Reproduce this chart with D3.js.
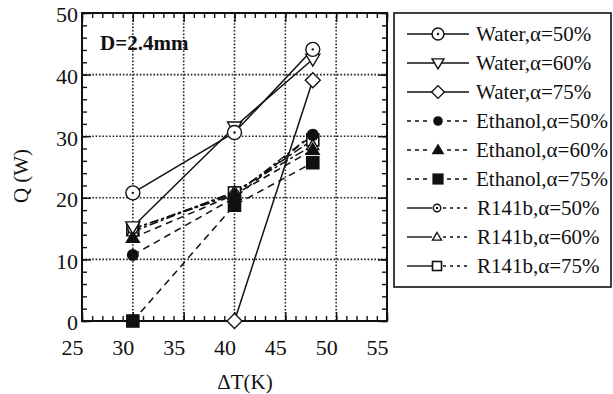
<!DOCTYPE html>
<html>
<head>
<meta charset="utf-8">
<script src="https://cdn.jsdelivr.net/npm/d3@7"></script>
<style>
  body { margin: 0; background: #fff; }
</style>
</head>
<body>
<div class="chart"></div>
<script>
var svgWidth = 613;
var svgHeight = 394;

// data
var dT = [30, 40, 47.7];
var seriesNames = ["Water,α=50%", "Water,α=60%", "Water,α=75%",
    "Ethanol,α=50%", "Ethanol,α=60%", "Ethanol,α=75%",
    "R141b,α=50%", "R141b,α=60%", "R141b,α=75%"];
var water50 = [20.8, 30.6, 44.1];
var water60 = [15.3, 31.5, 42.5];
var water75 = [null, 0, 39.1];
var ethanol50 = [10.7, 20.0, 30.2];
var ethanol60 = [13.5, 20.5, 27.8];
var ethanol75 = [0, 18.8, 25.7];
var r141b50 = [15.0, 20.5, 30.3];
var r141b60 = [14.5, 21.0, 28.5];
var r141b75 = [14.9, 20.8, 29.4];
var xTicks = [25, 30, 35, 40, 45, 50, 55];
var yTicks = [0, 10, 20, 30, 40, 50];

var allValues = [water50, water60, water75, ethanol50, ethanol60, ethanol75, r141b50, r141b60, r141b75];
var markers = ["circleDot", "triDown", "diamond", "circleFill", "triFill", "squareFill", "circleDotSmall", "triOpen", "squareOpen"];
var lineKind = ["solid", "solid", "solid", "dash", "dash", "dash", "dashdot", "dashdot", "dashdot"];

var serif = "Liberation Serif";

var svg = d3.select(".chart")
    .append("svg")
    .attr("width", svgWidth)
    .attr("height", svgHeight);

var x = d3.scaleLinear().domain([25, 55]).range([82, 387]);
var y = d3.scaleLinear().domain([0, 50]).range([321, 13]);

function serifText(sel, size, weight) {
    return sel.style("font-family", serif)
        .style("font-size", size + "px")
        .style("font-weight", weight || "normal")
        .style("fill", "#111");
}

// dotted grid
var grid = svg.append("g");
grid.selectAll(".gx").data(xTicks.slice(1, -1)).enter().append("line")
    .attr("x1", d => x(d)).attr("x2", d => x(d))
    .attr("y1", y(50)).attr("y2", y(0))
    .attr("stroke", "#222").attr("stroke-width", 1.6).attr("stroke-dasharray", "1.6,1.8");
grid.selectAll(".gy").data(yTicks.slice(1, -1)).enter().append("line")
    .attr("x1", x(25)).attr("x2", x(55))
    .attr("y1", d => y(d)).attr("y2", d => y(d))
    .attr("stroke", "#222").attr("stroke-width", 1.6).attr("stroke-dasharray", "1.6,1.8");

// ticks on all four sides, pointing inward
function tickAxis(axis, transform) {
    var g = svg.append("g").attr("transform", transform).call(axis);
    g.select(".domain").remove();
    g.selectAll("line").attr("stroke", "#111").attr("stroke-width", 1.4);
    return g;
}
var xMinor = d3.range(25, 56, 1);
var yMinor = d3.range(0, 51, 2);
tickAxis(d3.axisBottom(x).tickValues(xMinor).tickSize(-5).tickFormat(""), `translate(0,${y(0)})`);
tickAxis(d3.axisTop(x).tickValues(xMinor).tickSize(-5).tickFormat(""), `translate(0,${y(50)})`);
tickAxis(d3.axisLeft(y).tickValues(yMinor).tickSize(-5).tickFormat(""), `translate(${x(25)},0)`);
tickAxis(d3.axisRight(y).tickValues(yMinor).tickSize(-5).tickFormat(""), `translate(${x(55)},0)`);
tickAxis(d3.axisTop(x).tickValues(xTicks).tickSize(-9).tickFormat(""), `translate(0,${y(50)})`);
tickAxis(d3.axisRight(y).tickValues(yTicks).tickSize(-9).tickFormat(""), `translate(${x(55)},0)`);

var xAxis = tickAxis(d3.axisBottom(x).tickValues(xTicks).tickSize(-9).tickPadding(22), `translate(0,${y(0)})`);
serifText(xAxis.selectAll("text"), 22).attr("dx", -10).attr("dy", "0.55em");
var yAxis = tickAxis(d3.axisLeft(y).tickValues(yTicks).tickSize(-9).tickPadding(5), `translate(${x(25)},0)`);
serifText(yAxis.selectAll("text"), 22).attr("dx", 1).attr("dy", "0.4em");

// frame
svg.append("rect")
    .attr("x", x(25)).attr("y", y(50))
    .attr("width", x(55) - x(25)).attr("height", y(0) - y(50))
    .attr("fill", "none").attr("stroke", "#111").attr("stroke-width", 2);

serifText(svg.append("text"), 21, "bold")
    .attr("x", 100).attr("y", 50)
    .text("D=2.4mm");

serifText(svg.append("text"), 21)
    .attr("transform", "translate(28,176) rotate(-90)")
    .attr("text-anchor", "middle")
    .text("Q (W)");

serifText(svg.append("text"), 21)
    .attr("x", 245).attr("y", 389)
    .attr("text-anchor", "middle")
    .text("ΔT(K)");

function dashFor(kind) {
    if (kind === "dash") return "7,5";
    if (kind === "dashdot") return "9,3,3,3";
    return null;
}

function drawMarker(g, type, cx, cy, scale) {
    var s = scale || 1;
    var stroke = "#111";
    if (type === "circleDot" || type === "circleDotSmall") {
        var r = (type === "circleDot" ? 7 : 5) * s;
        g.append("circle").attr("cx", cx).attr("cy", cy).attr("r", r)
            .attr("fill", "#fff").attr("stroke", stroke).attr("stroke-width", 1.4);
        g.append("circle").attr("cx", cx).attr("cy", cy).attr("r", 1.2)
            .attr("fill", stroke);
    } else if (type === "circleFill") {
        g.append("circle").attr("cx", cx).attr("cy", cy).attr("r", 6 * s).attr("fill", stroke);
    } else if (type === "triDown") {
        var h = 7 * s;
        g.append("path").attr("d", `M${cx - h},${cy - h * 0.7}L${cx + h},${cy - h * 0.7}L${cx},${cy + h}Z`)
            .attr("fill", "#fff").attr("stroke", stroke).attr("stroke-width", 1.4);
    } else if (type === "triFill" || type === "triOpen") {
        var t = (type === "triFill" ? 6.5 : 6) * s;
        g.append("path").attr("d", `M${cx},${cy - t}L${cx + t},${cy + t * 0.7}L${cx - t},${cy + t * 0.7}Z`)
            .attr("fill", type === "triFill" ? stroke : "#fff").attr("stroke", stroke).attr("stroke-width", 1.4);
    } else if (type === "diamond") {
        var dd = 7.5 * s;
        g.append("path").attr("d", `M${cx},${cy - dd}L${cx + dd},${cy}L${cx},${cy + dd}L${cx - dd},${cy}Z`)
            .attr("fill", "#fff").attr("stroke", stroke).attr("stroke-width", 1.4);
    } else if (type === "squareFill" || type === "squareOpen") {
        var q = 6 * s;
        g.append("rect").attr("x", cx - q).attr("y", cy - q).attr("width", 2 * q).attr("height", 2 * q)
            .attr("fill", type === "squareFill" ? stroke : "#fff").attr("stroke", stroke).attr("stroke-width", 1.6);
    }
}

var line = d3.line()
    .defined(d => d[1] !== null)
    .x(d => x(d[0]))
    .y(d => y(d[1]));

var plot = svg.append("g");
allValues.forEach(function(vals, i) {
    var pts = dT.map((t, j) => [t, vals[j]]);
    plot.append("path")
        .attr("d", line(pts))
        .attr("fill", "none")
        .attr("stroke", "#111")
        .attr("stroke-width", 1.5)
        .attr("stroke-dasharray", dashFor(lineKind[i]));
});
// markers drawn in reverse so water symbols end on top
for (var i = allValues.length - 1; i >= 0; i--) {
    dT.forEach(function(t, j) {
        if (allValues[i][j] !== null) drawMarker(plot, markers[i], x(t), y(allValues[i][j]));
    });
}

// legend
var legend = svg.append("g");
legend.append("rect")
    .attr("x", 394).attr("y", 13).attr("width", 217).attr("height", 274)
    .attr("fill", "#fff").attr("stroke", "#111").attr("stroke-width", 1.6);

seriesNames.forEach(function(name, i) {
    var ly = 34 + i * 29;
    var g = legend.append("g");
    if (lineKind[i] === "solid") {
        g.append("line").attr("x1", 407).attr("x2", 469).attr("y1", ly).attr("y2", ly)
            .attr("stroke", "#111").attr("stroke-width", 1.4);
        drawMarker(g, markers[i], 438, ly, 0.85);
    } else if (lineKind[i] === "dash") {
        g.append("line").attr("x1", 407).attr("x2", 469).attr("y1", ly).attr("y2", ly)
            .attr("stroke", "#111").attr("stroke-width", 1.4).attr("stroke-dasharray", "4,4");
        g.append("rect").attr("x", 430).attr("y", ly - 5).attr("width", 16).attr("height", 10).attr("fill", "#fff");
        drawMarker(g, markers[i], 438, ly, 0.8);
    } else {
        g.append("line").attr("x1", 407).attr("x2", 432).attr("y1", ly).attr("y2", ly)
            .attr("stroke", "#111").attr("stroke-width", 1.4);
        g.append("line").attr("x1", 443).attr("x2", 470).attr("y1", ly).attr("y2", ly)
            .attr("stroke", "#111").attr("stroke-width", 1.4).attr("stroke-dasharray", "3,4");
        drawMarker(g, markers[i], 437, ly, 0.75);
    }
    serifText(g.append("text"), 21)
        .attr("x", lineKind[i] === "dashdot" ? 477 : 476)
        .attr("y", ly + 7)
        .text(name);
});
</script>
</body>
</html>
